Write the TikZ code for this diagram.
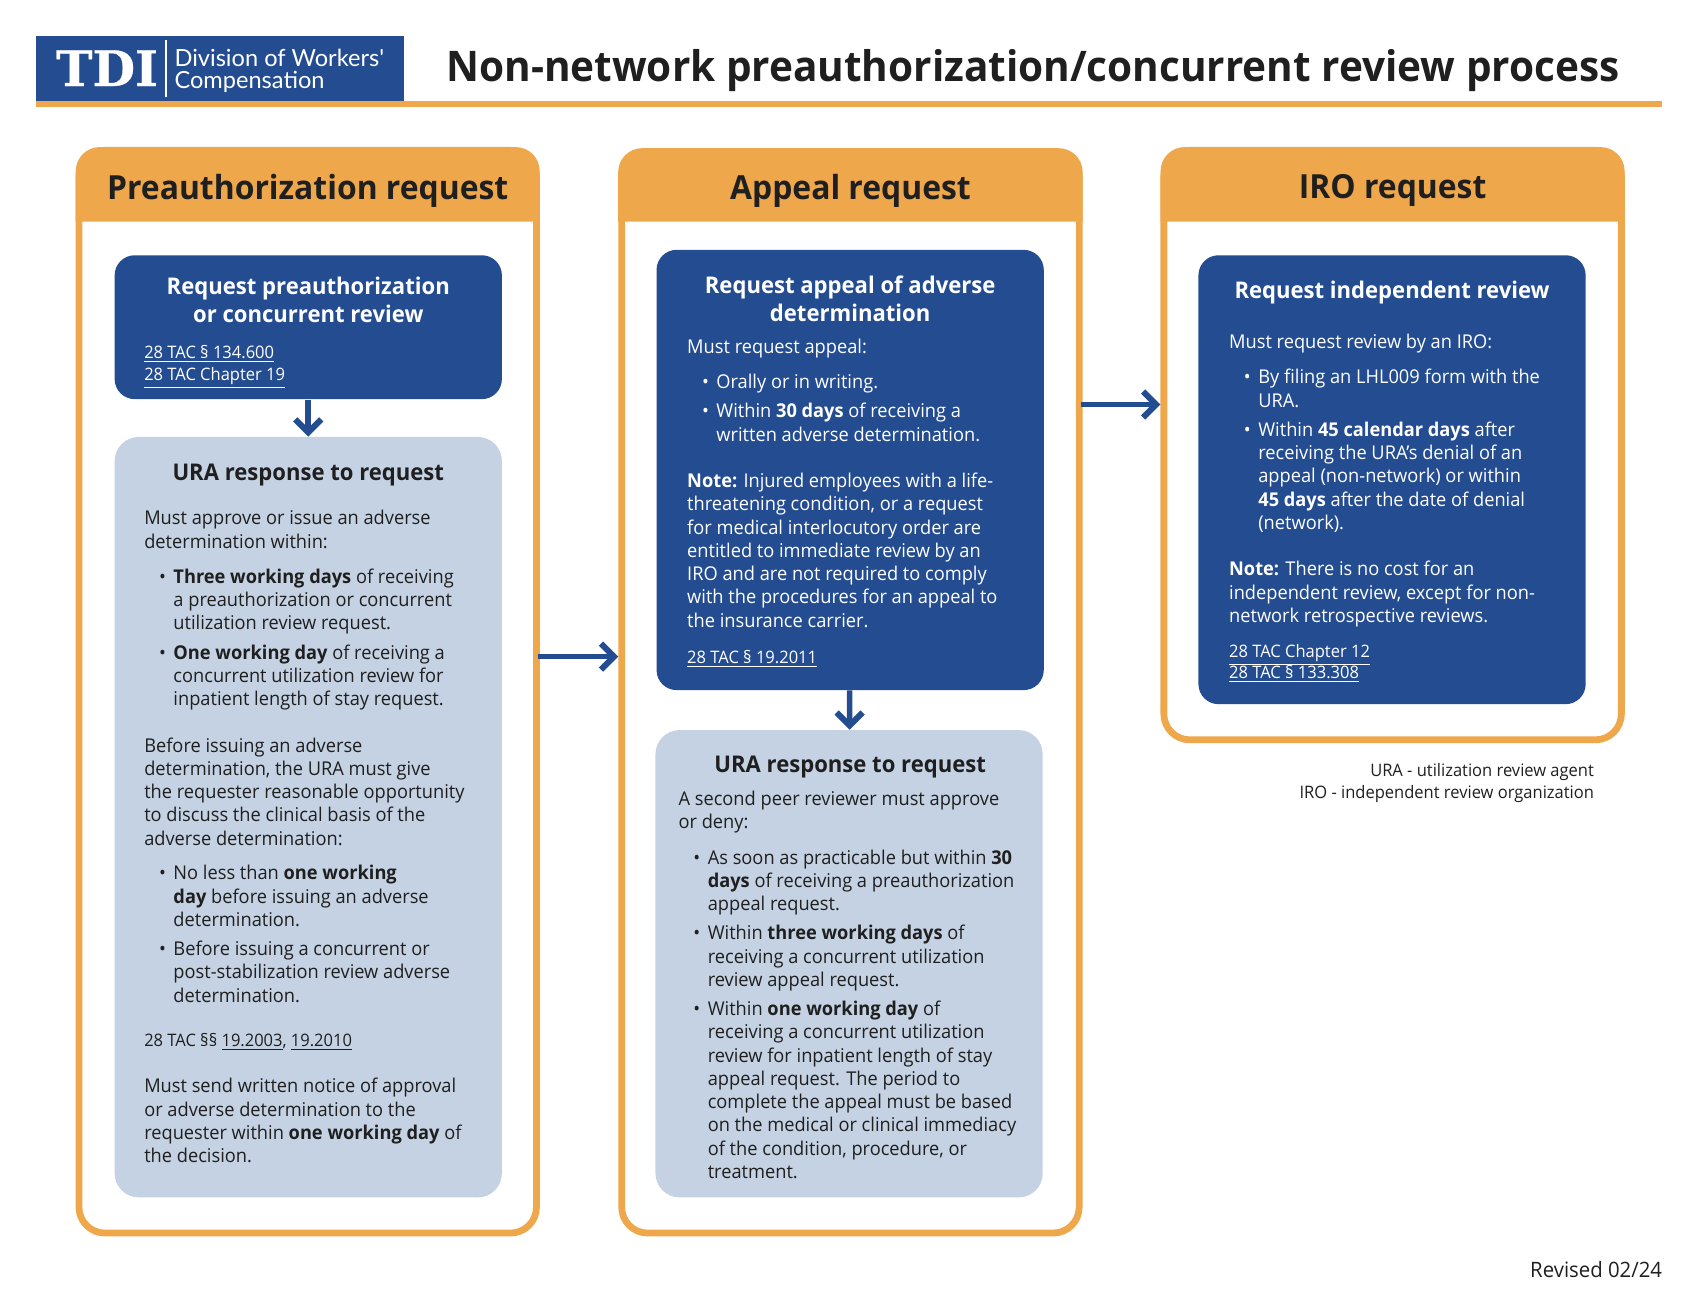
\documentclass[tikz,border=0pt]{standalone}
\usepackage{fontspec}
\setmainfont[FakeStretch=0.96]{Open Sans}
\newfontfamily\logofont[BoldFeatures={FakeBold=0.6}]{DejaVu Serif}
\newfontfamily\logosub{Lato}
\usetikzlibrary{arrows.meta}

\definecolor{tdiblue}{RGB}{36,76,145}
\definecolor{tdiorange}{RGB}{238,167,75}
\definecolor{tdilight}{RGB}{197,210,227}
\definecolor{tdiink}{RGB}{31,31,31}

\def\unitlen{0.5408pt}
\newcommand{\bitem}{\hspace*{7.4pt}\makebox[7.2pt][l]{\textbullet}}
\newcommand{\bcont}{\hspace*{14.6pt}}

\tikzset{
  panelbox/.style={draw=tdiorange,line width=3.4pt,rounded corners=13pt,inner sep=0pt,minimum width=423*\unitlen},
  bluebox/.style={fill=tdiblue,rounded corners=10pt,inner sep=0pt,minimum width=358*\unitlen},
  lightbox/.style={fill=tdilight,rounded corners=12pt,inner sep=0pt,minimum width=358*\unitlen},
  flowarrow/.style={draw=tdiblue,line width=2.8pt,-{Straight Barb[length=6.5pt,width=13pt,line width=3pt]}},
  paneltitle/.style={font=\fontsize{16.6}{20}\selectfont\bfseries,text=tdiink,inner sep=0pt},
  boxhead/.style={font=\fontsize{11.5}{14}\selectfont\bfseries,align=center,inner sep=0pt},
  bodytext/.style={font=\fontsize{9.5}{11.63}\selectfont,align=left,anchor=north west,inner sep=0pt},
  reftext/.style={font=\fontsize{8.6}{10.8}\selectfont,align=left,anchor=north west,inner sep=0pt}
}

\begin{document}
\begin{tikzpicture}[x=0.5408pt,y=-0.5408pt]

\useasboundingbox (0,0) rectangle (1568,1213);

% Logo
\fill[tdiorange] (33,93.5) rectangle (1537,99);
\node[fill=tdiblue,inner sep=0pt,minimum width=340.5*\unitlen,minimum height=60.5*\unitlen] (logo) at (203.2,63.2) {};
\node[text=white,font=\logofont\fontsize{24.5}{25}\selectfont\bfseries,inner sep=0pt] (logoTDI) at (99,63) {TDI};
\draw[white,line width=0.9pt] (153.5,37) -- (153.5,90);
\node[text=white,font=\logosub\fontsize{11.8}{11.3}\selectfont,align=left,inner sep=0pt,anchor=west] (logoName) at (161,65.5) {Division of Workers'\\Compensation};

% Title
\node[font=\fontsize{21.1}{26}\selectfont\bfseries,text=tdiink,inner sep=0pt] (title) at (955,65) {Non-network preauthorization/concurrent review process};

% Panels
\foreach \nm/\xa/\ya/\xb/\yb/\ttl in {Pre/73/139/496/1140/Preauthorization request,App/574.5/140/998/1140/Appeal request,Iro/1076/139/1499/684/IRO request}{
  \node[panelbox,minimum height={(\yb-\ya)*\unitlen}] (panel\nm) at ({(\xa+\xb)/2},{(\ya+\yb)/2}) {};
  \fill[tdiorange] (\xa-3,205) [rounded corners=12pt] -- (\xa-3,\ya-3) -- (\xb+3,\ya-3) [sharp corners] -- (\xb+3,205) -- cycle;
  \node[paneltitle] (title\nm) at ({(\xa+\xb)/2},176.5) {\ttl};
}

% Boxes
\node[bluebox,minimum height=133*\unitlen] (reqPre) at (285,302.5) {};
\node[lightbox,minimum height=703*\unitlen] (uraPre) at (285,755.5) {};
\node[bluebox,minimum height=407*\unitlen] (reqApp) at (786,434.5) {};
\node[lightbox,minimum height=432*\unitlen] (uraApp) at (785,891) {};
\node[bluebox,minimum height=415*\unitlen] (reqIro) at (1287,443.5) {};

% Arrows
\coordinate (linkA) at (0,607);
\coordinate (linkB) at (0,374);
\draw[flowarrow] (reqPre) -- (uraPre);
\draw[flowarrow] (reqApp) -- (uraApp);
\draw[flowarrow,shorten <=-1pt] (linkA -| panelPre.east) -- (linkA -| panelApp.west);
\draw[flowarrow,shorten <=-1pt] (linkB -| panelApp.east) -- (linkB -| panelIro.west);

% Left panel
\node[boxhead,text=white] (headReqPre) at (285,277) {Request preauthorization\\or concurrent review};
\node[reftext,text=white] (refReqPre) at (133,319) {\underline{28 TAC § 134.600}\\\underline{28 TAC Chapter 19}};

\node[boxhead,text=tdiink] (headUraPre) at (285,439) {URA response to request};
\node[bodytext,text=tdiink] (bodyUraPre) at (133,471.5) {Must approve or issue an adverse\\
determination within:\\[6pt]
\bitem\textbf{Three working days} of receiving\\
\bcont a preauthorization or concurrent\\
\bcont utilization review request.\\[3pt]
\bitem\textbf{One working day} of receiving a\\
\bcont concurrent utilization review for\\
\bcont inpatient length of stay request.\\[11.6pt]
Before issuing an adverse\\
determination, the URA must give\\
the requester reasonable opportunity\\
to discuss the clinical basis of the\\
adverse determination:\\[5.7pt]
\bitem No less than \textbf{one working}\\
\bcont\textbf{day} before issuing an adverse\\
\bcont determination.\\[3pt]
\bitem Before issuing a concurrent or\\
\bcont post-stabilization review adverse\\
\bcont determination.};
\node[reftext,text=tdiink] (refUraPre) at (133,955) {28 TAC §§ \underline{19.2003}, \underline{19.2010}};
\node[bodytext,text=tdiink] (noticeUraPre) at (133,996.5) {Must send written notice of approval\\
or adverse determination to the\\
requester within \textbf{one working day} of\\
the decision.};

% Middle panel
\node[boxhead,text=white] (headReqApp) at (786,276) {Request appeal of adverse\\determination};
\node[bodytext,text=white] (bodyReqApp) at (635,313) {Must request appeal:\\[6pt]
\bitem Orally or in writing.\\[3pt]
\bitem Within \textbf{30 days} of receiving a\\
\bcont written adverse determination.\\[11.6pt]
\textbf{Note:} Injured employees with a life-\\
threatening condition, or a request\\
for medical interlocutory order are\\
entitled to immediate review by an\\
IRO and are not required to comply\\
with the procedures for an appeal to\\
the insurance carrier.};
\node[reftext,text=white] (refReqApp) at (635,601) {\underline{28 TAC § 19.2011}};

\node[boxhead,text=tdiink] (headUraApp) at (786,709) {URA response to request};
\node[bodytext,text=tdiink] (bodyUraApp) at (627,731) {A second peer reviewer must approve\\
or deny:\\[6pt]
\bitem As soon as practicable but within \textbf{30}\\
\bcont\textbf{days} of receiving a preauthorization\\
\bcont appeal request.\\[3pt]
\bitem Within \textbf{three working days} of\\
\bcont receiving a concurrent utilization\\
\bcont review appeal request.\\[3pt]
\bitem Within \textbf{one working day} of\\
\bcont receiving a concurrent utilization\\
\bcont review for inpatient length of stay\\
\bcont appeal request. The period to\\
\bcont complete the appeal must be based\\
\bcont on the medical or clinical immediacy\\
\bcont of the condition, procedure, or\\
\bcont treatment.};

% Right panel
\node[boxhead,text=white] (headReqIro) at (1287,270) {Request independent review};
\node[bodytext,text=white] (bodyReqIro) at (1136,308.5) {Must request review by an IRO:\\[6pt]
\bitem By filing an LHL009 form with the\\
\bcont URA.\\[3pt]
\bitem Within \textbf{45 calendar days} after\\
\bcont receiving the URA's denial of an\\
\bcont appeal (non-network) or within\\
\bcont\textbf{45 days} after the date of denial\\
\bcont (network).\\[11.6pt]
\textbf{Note:} There is no cost for an\\
independent review, except for non-\\
network retrospective reviews.};
\node[reftext,text=white] (refReqIro) at (1136,595) {\underline{28 TAC Chapter 12}\\\underline{28 TAC § 133.308}};

% Legend
\node[reftext,text=tdiink,align=right,anchor=north east] (legend) at (1474,705.5) {URA - utilization review agent\\IRO - independent review organization};
\node[bodytext,text=tdiink,anchor=east,font=\fontsize{10.6}{13}\selectfont] (revised) at (1537,1174) {Revised 02/24};

\end{tikzpicture}
\end{document}
